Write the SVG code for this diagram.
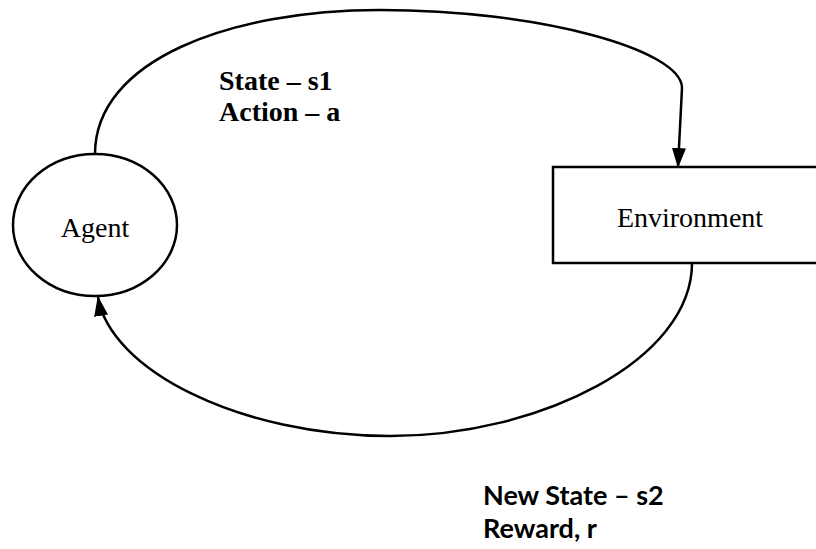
<svg xmlns="http://www.w3.org/2000/svg" width="816" height="549" viewBox="0 0 816 549">
<defs>
<style>
.shape{fill:#fff;stroke:#000;stroke-width:2.5}
.conn{fill:none;stroke:#000;stroke-width:2.5}
.serif{font-family:"Liberation Serif","Times New Roman",serif;font-size:28px;fill:#000}
.lbl1{font-family:"Liberation Serif","Times New Roman",serif;font-size:28px;font-weight:bold;fill:#000}
.lbl2{font-family:Lato,"Open Sans",sans-serif;font-size:27px;font-weight:bold;fill:#000}
</style>
<marker id="arr" markerWidth="20" markerHeight="14" refX="19" refY="7" orient="auto" markerUnits="userSpaceOnUse" viewBox="0 0 20 14">
<path d="M0,0 L20,7 L0,14 Z" fill="#000"/>
</marker>
</defs>
<rect width="816" height="549" fill="#fff"/>
<g id="agent">
<ellipse class="shape" cx="95" cy="225" rx="82" ry="71"/>
<text class="serif" x="95" y="237" text-anchor="middle">Agent</text>
</g>
<g id="environment">
<rect class="shape" x="553" y="167" width="280" height="96"/>
<text class="serif" x="690" y="227" text-anchor="middle">Environment</text>
</g>
<g id="connectors">
<path class="conn" marker-end="url(#arr)" d="M95,154 C95,60 230,10 380,10 C540,10 682,50 682,88 L678,167"/>
<path class="conn" marker-end="url(#arr)" d="M692,263 C692,360 540,436 390,436 C240,436 110,370 98,297"/>
</g>
<g id="labels">
<text class="lbl1" x="219" y="90">State – s1</text>
<text class="lbl1" x="219" y="121">Action – a</text>
<text class="lbl2" x="483" y="505">New State – s2</text>
<text class="lbl2" x="483" y="538">Reward, r</text>
</g>
</svg>
